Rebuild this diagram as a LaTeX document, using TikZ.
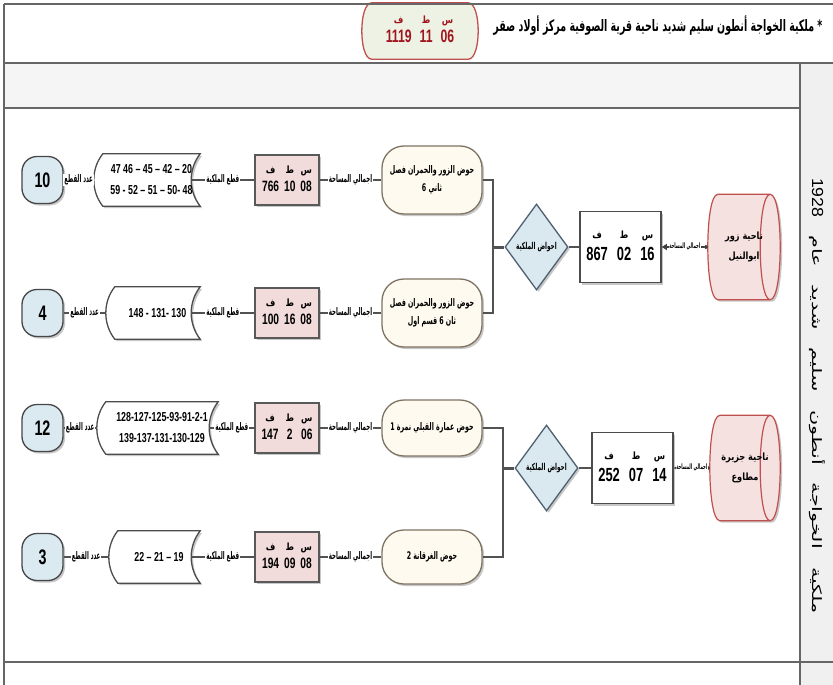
\documentclass[tikz,border=0pt]{standalone}
\usepackage{fontspec}
\usetikzlibrary{shapes.geometric,arrows.meta,shadows}
\TeXXeTstate=1
\newfontfamily\arfont[Script=Arabic,FakeStretch=0.82]{DejaVu Sans}
\newfontfamily\arcond[Script=Arabic,FakeStretch=0.6]{DejaVu Sans}
\newfontfamily\arlab[Script=Arabic,FakeStretch=0.52]{DejaVu Sans}
\newfontfamily\arside[Script=Arabic,FakeStretch=1.6]{DejaVu Sans}
\newfontfamily\numfont[FakeStretch=0.68]{Liberation Sans}
\newfontfamily\sidenum[FakeStretch=1.1]{Liberation Sans}
\pgfdeclarelayer{back}\pgfdeclarelayer{bg}\pgfsetlayers{back,bg,main}

\definecolor{ovalblue}{HTML}{DBE9F1}
\definecolor{pinkfill}{HTML}{F2DCDB}
\definecolor{creamfill}{HTML}{FEFAEF}
\definecolor{creamline}{HTML}{7F7363}
\definecolor{dblue}{HTML}{DAE8EF}
\definecolor{dline}{HTML}{4F6170}
\definecolor{redline}{HTML}{C0504D}
\definecolor{cylfill}{HTML}{F5E1E0}
\definecolor{hdrfill}{HTML}{EEF2E4}
\definecolor{darkred}{HTML}{A0141E}

\newcommand\artx[1]{{\arfont\bfseries\beginR #1\endR}}
\newcommand\arc[1]{{\arcond\bfseries\beginR #1\endR}}
\newcommand\arl[1]{{\arlab\bfseries\beginR #1\endR}}
\newcommand\nmb[2]{{\numfont\bfseries\fontsize{#1}{#1}\selectfont #2}}
\newcommand\sfl[1]{{\arfont\bfseries\fontsize{10}{11}\selectfont #1}}
\newcommand\sftab[6]{\begin{tabular}{@{}c@{\hspace{#2}}c@{\hspace{#2}}c@{}}\sfl{ف}&\sfl{ط}&\sfl{س}\\[#6]\nmb{#1}{#3}&\nmb{#1}{#4}&\nmb{#1}{#5}\end{tabular}}

\newcommand\barrel[2]{\draw[#2] ([xshift=10pt]#1.north west) .. controls ([xshift=-3.33pt]#1.north west) and ([xshift=-3.33pt]#1.south west) .. ([xshift=10pt]#1.south west) -- ([xshift=-10pt]#1.south east) .. controls ([xshift=3.33pt]#1.south east) and ([xshift=3.33pt]#1.north east) .. ([xshift=-10pt]#1.north east) -- cycle;}
\newcommand\cylinner[2]{\draw[#2] ([xshift=-10pt]#1.north east) .. controls ([xshift=-23.33pt]#1.north east) and ([xshift=-23.33pt]#1.south east) .. ([xshift=-10pt]#1.south east);}
\newcommand\tape[1]{\begin{pgfonlayer}{bg}\draw[tapeline] (#1.north west) .. controls +(-12,15) and +(-12,-15) .. (#1.south west) -- (#1.south east) .. controls +(-12,-15) and +(-12,15) .. (#1.north east) -- cycle;\end{pgfonlayer}}

\tikzset{
 shade1/.style={drop shadow={shadow xshift=2pt, shadow yshift=-2pt, opacity=0.22, fill=black}},
 frame/.style={draw=black!60, line width=1.6pt},
 conn/.style={draw=black!68, line width=1.5pt},
 countbox/.style={draw=black!72, line width=1.3pt, fill=ovalblue, rounded corners=15pt, minimum width=41pt, minimum height=47pt, inner sep=0pt, shade1},
 tapebox/.style={inner sep=0pt, minimum height=52pt, align=center, font=\numfont\bfseries\fontsize{13}{21}\selectfont},
 tapeline/.style={draw=black!70, line width=1.3pt, fill=white, shade1},
 areabox/.style={draw=black!65, line width=1.3pt, fill=pinkfill, minimum width=64pt, minimum height=50pt, inner sep=0pt, shade1},
 basin/.style={draw=creamline, line width=1.3pt, fill=creamfill, rounded corners=22pt, minimum width=100pt, align=center, inner sep=0pt, font=\fontsize{10.5}{18}\selectfont, shade1},
 lbl/.style={fill=white, inner sep=1pt, font=\fontsize{10.5}{11}\selectfont},
 smalllbl/.style={fill=white, inner sep=0.5pt, font=\fontsize{7.5}{8}\selectfont},
 choice/.style={diamond, draw=dline, fill=dblue, line width=1.3pt, minimum width=63pt, minimum height=86pt, inner sep=0pt, font=\fontsize{9.5}{10}\selectfont, shade1},
 sumbox/.style={draw=black!70, line width=1.5pt, fill=white, minimum width=81pt, minimum height=71pt, inner sep=0pt, shade1},
 cylbox/.style={minimum width=72pt, minimum height=105pt, inner sep=0pt, align=center, font=\fontsize{10}{20}\selectfont},
 cylstyle/.style={draw=redline, line width=1.2pt, fill=cylfill, shade1},
 cylline/.style={draw=redline, line width=1.2pt},
 hdrbox/.style={minimum width=116pt, minimum height=56pt, inner sep=0pt, text=darkred},
 hdrstyle/.style={draw=redline, line width=1.3pt, fill=hdrfill},
 countnum/.style={font=\numfont\bfseries\fontsize{21}{22}\selectfont},
 arrowcon/.style={draw=black!75, line width=1.2pt, {Circle[length=4pt]}-{Triangle[length=5pt,width=6pt]}},
}

\begin{document}
\begin{tikzpicture}[x=1pt,y=-1pt]
\useasboundingbox (0,0) rectangle (833,685);
\begin{pgfonlayer}{back}
\fill[white] (0,0) rectangle (833,685);
\fill[black!6] (800,63) rectangle (833,685);
\fill[black!4] (4,63) rectangle (800,108);
\end{pgfonlayer}
% frame
\draw[frame, line width=2pt] (4,4) -- (833,4);
\draw[frame] (4,4) -- (4,685);
\draw[frame] (4,63) -- (833,63);
\draw[frame] (4,108) -- (800,108);
\draw[frame] (800,63) -- (800,685);
\draw[frame] (4,662) -- (833,662);

% header
\node[hdrbox] (hb) at (420,31) {\sftab{18}{8pt}{1119}{11}{06}{3pt}};
\begin{pgfonlayer}{bg}\barrel{hb}{hdrstyle}\end{pgfonlayer}
\node[anchor=east, font=\fontsize{15.8}{16}\selectfont] (title) at (826,26) {\arc{* ملكية الخواجة أنطون سليم شديد ناحية قرية الصوفية مركز أولاد صقر}};
\node[rotate=-90, font=\fontsize{13}{14}\selectfont] (side) at (817,396) {\arside\spaceskip=18pt\beginR ملكية الخواجة أنطون سليم شديد عام \beginL{\sidenum\fontsize{16}{16}\selectfont 1928}\endL\endR};

% row 1
\node[countbox, countnum] (c1) at (42.5,180) {10};
\node[tapebox, minimum width=97pt] (t1) at (151.5,180) {47 46 – 45 – 42 – 20\\59 - 52 – 51 – 50- 48};
\tape{t1}
\node[areabox] (a1) at (287,180) {\sftab{15}{5pt}{766}{10}{08}{4pt}};
\node[basin, minimum height=68pt] (b1) at (432,180) {\arc{حوض الزور والحمران فصل}\\\arc{ثاني 6}};
% row 2
\node[countbox, countnum] (c2) at (42.5,313) {4};
\node[tapebox, minimum width=85pt] (t2) at (157.5,313) {148 - 131- 130};
\tape{t2}
\node[areabox] (a2) at (287,313) {\sftab{15}{5pt}{100}{16}{08}{4pt}};
\node[basin, minimum height=68pt] (b2) at (432,313) {\arc{حوض الزور والحمران فصل}\\\arc{ثان 6 قسم اول}};
% row 3
\node[countbox, countnum] (c3) at (42.5,428) {12};
\node[tapebox, minimum width=112pt] (t3) at (162,428) {128-127-125-93-91-2-1\\139-137-131-130-129};
\tape{t3}
\node[areabox] (a3) at (287,428) {\sftab{15}{7pt}{147}{2}{06}{4pt}};
\node[basin, minimum height=56pt] (b3) at (432,428) {\arc{حوض عمارة القبلي نمرة 1}};
% row 4
\node[countbox, countnum] (c4) at (42.5,557) {3};
\node[tapebox, minimum width=82pt] (t4) at (159,557) {22 – 21 – 19};
\tape{t4}
\node[areabox] (a4) at (287,557) {\sftab{15}{5pt}{194}{09}{08}{4pt}};
\node[basin, minimum height=54pt] (b4) at (432,557) {\arc{حوض الغرقانة 2}};

% right groups
\coordinate (j1) at (493,247);
\coordinate (j2) at (503,468);
\node[choice] (d1) at (536.5,247) {\arc{احواض الملكية}};
\node[choice] (d2) at (546.5,468) {\arc{احواض الملكية}};
\node[sumbox] (s1) at (620.5,247) {\sftab{19}{9pt}{867}{02}{16}{5pt}};
\node[sumbox] (s2) at (632.5,468) {\sftab{19}{9pt}{252}{07}{14}{5pt}};
\node[cylbox] (y1) at (744,247) {\artx{ناحية زور}\\\artx{ابوالنيل}};
\node[cylbox, minimum width=70pt] (y2) at (745,468) {\artx{ناحية جزيرة}\\\artx{مطاوع}};
\begin{pgfonlayer}{bg}
\barrel{y1}{cylstyle}\cylinner{y1}{cylline}
\barrel{y2}{cylstyle}\cylinner{y2}{cylline}
\end{pgfonlayer}

% connectors rows
\foreach \r in {1,2,3,4}{
 \draw[conn] (c\r) -- node[lbl]{\arl{عدد القطع}} ([xshift=-9pt]t\r.west);
 \draw[conn] ([xshift=-9pt]t\r.east) -- node[lbl]{\arl{قطع الملكية}} (a\r);
 \draw[conn] (a\r) -- node[lbl]{\arl{اجمالي المساحة}} (b\r);
}
\draw[conn] (b1.east) -| (j1) |- (b2.east);
\draw[conn] (b3.east) -| (j2) |- (b4.east);
\draw[conn, line width=3pt] (j1) -- (d1);
\draw[conn, line width=3pt] (j2) -- (d2);
\draw[conn] (d1) -- (s1);
\draw[conn] (d2) -- (s2);
\draw[arrowcon] (y1) -- node[smalllbl]{\arl{اجمالي المساحة}} (s1);
\draw[arrowcon] (y2) -- node[smalllbl]{\arl{اجمالي المساحة}} (s2);
\end{tikzpicture}
\end{document}
